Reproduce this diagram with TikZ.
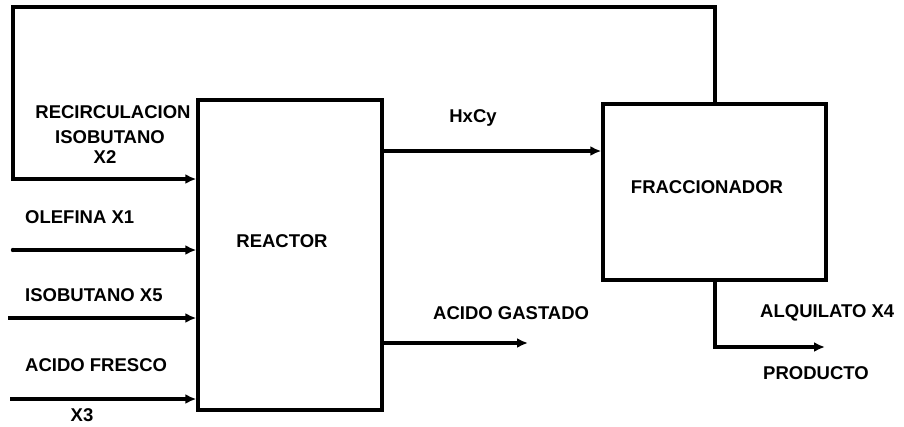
\documentclass[tikz,border=0pt]{standalone}
\usepackage{fontspec}
\setmainfont{Liberation Sans}
\usetikzlibrary{arrows.meta}
\begin{document}
\begin{tikzpicture}[x=1pt,y=-1pt,
  line/.style={line width=3.4pt},
  arr/.style={line width=3.4pt,-{Latex[length=11pt,width=10pt]}},
  box/.style={draw,line width=3.4pt,rectangle,inner sep=0pt},
  lbl/.style={font=\fontsize{18.5}{21}\selectfont\bfseries,inner sep=0pt},
  lbll/.style={lbl,anchor=west}]
\useasboundingbox (0,0) rectangle (904,426);
% boxes
\node[box,minimum width=184pt,minimum height=310pt] (reactor) at (290,255) {};
\node[box,minimum width=223pt,minimum height=176pt] (frac) at (714.5,192) {};
\node[lbl] (reactorlbl) at (282,241) {REACTOR};
\node[lbl] (fraclbl) at (707,187) {FRACCIONADOR};
% coordinates
\coordinate (loopA) at (715,7);
\coordinate (loopB) at (13,7);
\coordinate (loopC) at (13,179);
\coordinate (olef) at (13,250);
\coordinate (isob) at (8,318);
\coordinate (acf) at (10,399);
\coordinate (gast) at (528,343);
\coordinate (prodC) at (715,347);
\coordinate (prod) at (825,347);
% recycle loop
\draw[line,line join=miter] (frac.north -| loopA) -- (loopA) -- (loopB) -- (loopC) -- ([xshift=1pt]loopC);
\draw[arr] ([xshift=-1.6pt]loopC) -- (loopC -| reactor.west);
% feeds
\draw[arr] (olef) -- (olef -| reactor.west);
\fill (olef) circle (2.2pt);
\draw[arr] (isob) -- (isob -| reactor.west);
\draw[arr] (acf) -- (acf -| reactor.west);
% outputs
\draw[arr] (reactor.east |- 0,151) -- (frac.west |- 0,151);
\draw[arr] (reactor.east |- gast) -- (gast);
\draw[arr,line join=miter] (frac.south -| prodC) -- (prodC) -- (prod);
% labels
\node[lbl] (recirc1) at (113,112) {RECIRCULACION};
\node[lbl] (recirc2) at (110,137) {ISOBUTANO};
\node[lbl] (recirc3) at (105,157) {X2};
\node[lbll] (olefl) at (25,217) {OLEFINA X1};
\node[lbll] (isobl) at (25,295) {ISOBUTANO X5};
\node[lbll] (acfl) at (25,365) {ACIDO FRESCO};
\node[lbl,anchor=base] (x3) at (82,421) {X3};
\node[lbl] (hxcy) at (473,118) {HxCy};
\node[lbll] (gastl) at (433,313) {ACIDO GASTADO};
\node[lbll] (alq) at (760,313) {ALQUILATO X4};
\node[lbll] (prodl) at (763,373) {PRODUCTO};
\end{tikzpicture}
\end{document}
